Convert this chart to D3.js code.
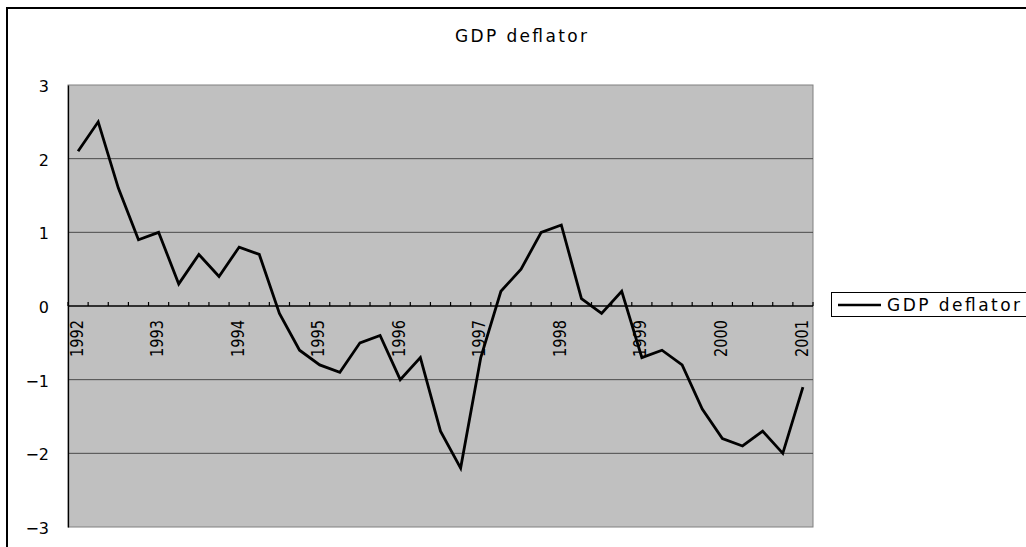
<!DOCTYPE html>
<html><head><meta charset="utf-8">
<script src="https://cdn.jsdelivr.net/npm/d3@7"></script>
<style>body{margin:0;background:#fff;overflow:hidden}svg{display:block}text{font-family:"DejaVu Sans","Liberation Sans",Arial,sans-serif;fill:#000}</style>
</head><body>
<svg id="c" width="1026" height="547"></svg>
<script>
const seriesName = "GDP deflator";
const years = [1992,1993,1994,1995,1996,1997,1998,1999,2000,2001];
const quarters = ["Q1","Q2","Q3","Q4"];
const values = [2.1,2.5,1.6,0.9, 1.0,0.3,0.7,0.4, 0.8,0.7,-0.1,-0.6, -0.8,-0.9,-0.5,-0.4,
  -1.0,-0.7,-1.7,-2.2, -0.7,0.2,0.5,1.0, 1.1,0.1,-0.1,0.2, -0.7,-0.6,-0.8,-1.4,
  -1.8,-1.9,-1.7,-2.0, -1.1];
const yTicks = [-3,-2,-1,0,1,2,3];

const categories = [];
years.forEach(y => quarters.forEach(q => categories.push(y + " " + q)));
const cats = categories.slice(0, values.length);
const data = cats.map((c,i)=>({c, v: values[i]}));

const svg = d3.select("#c");
const L=68, R=813, T=85, B=527;

svg.append("rect").attr("x",7).attr("y",8).attr("width",1040).attr("height",560)
  .attr("fill","#fff").attr("stroke","#000").attr("stroke-width",2);

const x = d3.scaleBand().domain(cats).range([L,R]).padding(0);
const y = d3.scaleLinear().domain([-3,3]).range([B,T]);

svg.append("rect").attr("x",L).attr("y",T).attr("width",R-L).attr("height",B-T)
  .attr("fill","#c0c0c0").attr("stroke","#808080").attr("stroke-width",1);

svg.append("g").selectAll("line").data(yTicks.filter(d=>d!==0 && d!==-3 && d!==3)).join("line")
  .attr("x1",L).attr("x2",R).attr("y1",d=>y(d)).attr("y2",d=>y(d))
  .attr("stroke","#4a4a4a").attr("stroke-width",1);

const ya = svg.append("g").attr("transform",`translate(${L},0)`)
  .call(d3.axisLeft(y).tickValues(yTicks).tickSize(0).tickPadding(18).tickFormat(d=>d<0?"\u2212"+Math.abs(d):d));
ya.select(".domain").attr("stroke","#000").attr("stroke-width",1.3);
ya.selectAll("text").style("font-size","16px").attr("dy","0.4em").attr("x",-19);

const xa = svg.append("g").attr("transform",`translate(0,${y(0)})`);
xa.append("line").attr("x1",L).attr("x2",R).attr("stroke","#000").attr("stroke-width",1.3);
const bounds = cats.map(c=>x(c)).concat([R]);
xa.selectAll("line.tk").data(bounds).join("line").attr("class","tk")
  .attr("x1",d=>d).attr("x2",d=>d).attr("y1",-4).attr("y2",0).attr("stroke","#000").attr("stroke-width",1.2);
const labelled = data.filter(d=>d.c.endsWith("Q1"));
xa.selectAll("text").data(labelled).join("text")
  .attr("transform",d=>`translate(${x(d.c)+x.bandwidth()/2-1.5},14) rotate(-90)`)
  .attr("text-anchor","end").attr("dy","0.36em")
  .style("font-size","17px")
  .attr("textLength",37).attr("lengthAdjust","spacingAndGlyphs")
  .text(d=>d.c.slice(0,4));

const line = d3.line().x(d=>x(d.c)+x.bandwidth()/2).y(d=>y(d.v));
svg.append("path").datum(data).attr("d",line).attr("fill","none")
  .attr("stroke","#000").attr("stroke-width",2.8).attr("stroke-linejoin","miter");

svg.append("text").attr("x",455).attr("y",42).style("font-size","17px")
  .attr("textLength",132).attr("lengthAdjust","spacing").text(seriesName);

const lg = svg.append("g");
lg.append("rect").attr("x",831.5).attr("y",292.5).attr("width",240).attr("height",24)
  .attr("fill","#fff").attr("stroke","#000").attr("stroke-width",1);
lg.append("line").attr("x1",838).attr("x2",881).attr("y1",305).attr("y2",305).attr("stroke","#000").attr("stroke-width",2.6);
lg.append("text").attr("x",887).attr("y",311).style("font-size","17px")
  .attr("textLength",133).attr("lengthAdjust","spacing").text(seriesName);
</script>
</body></html>
